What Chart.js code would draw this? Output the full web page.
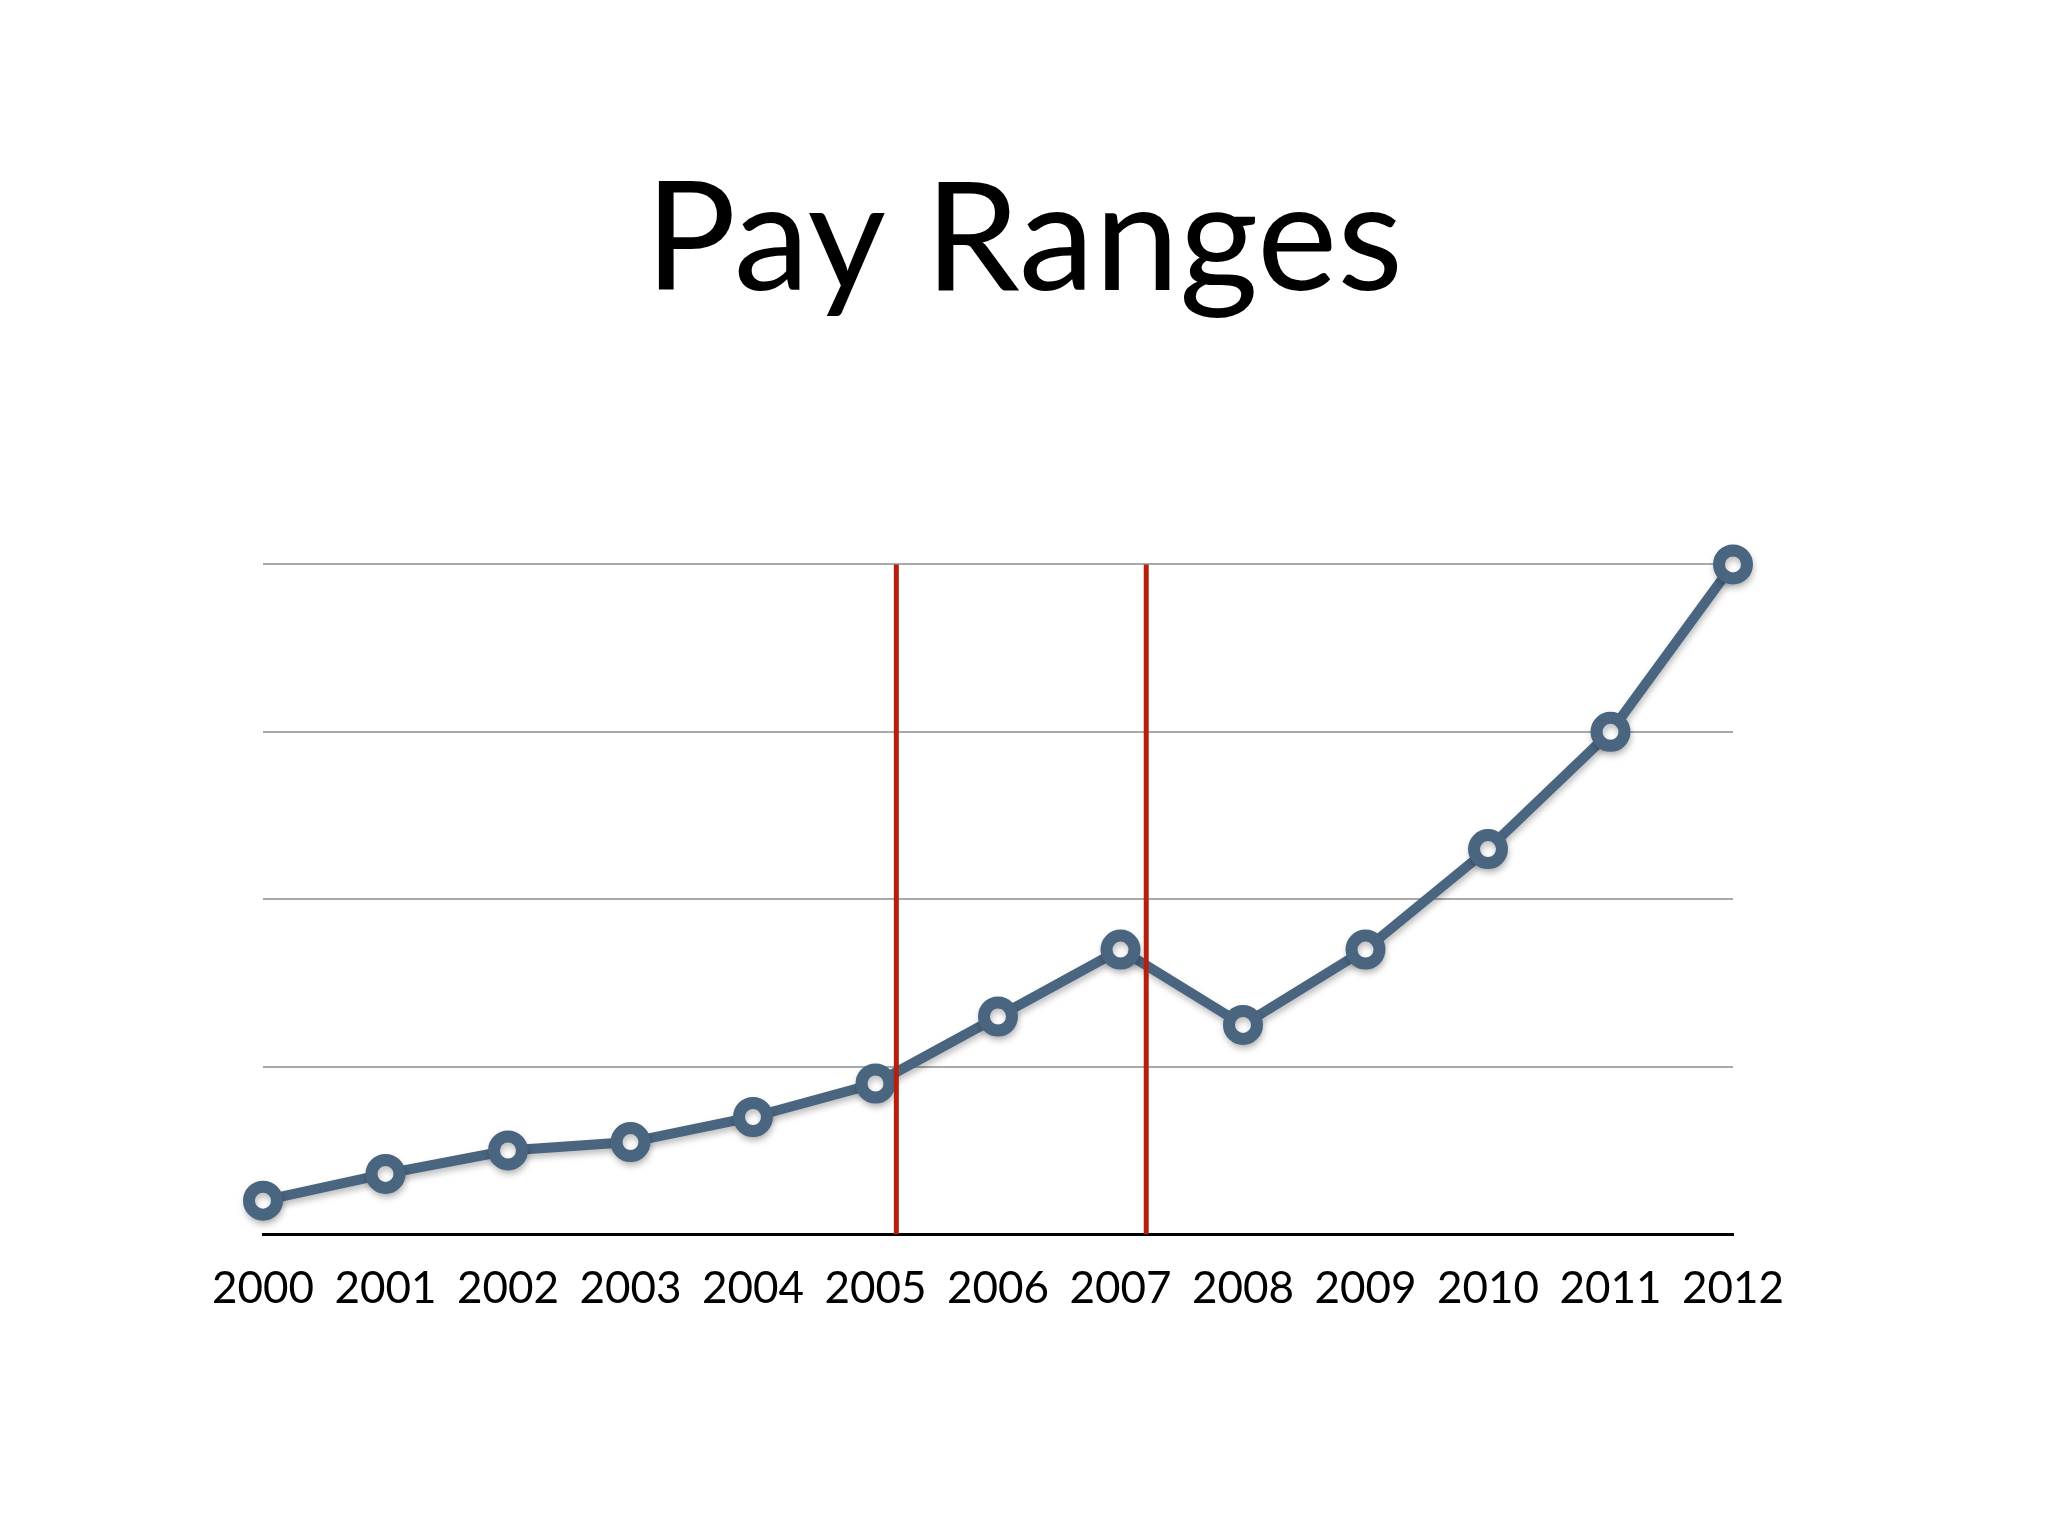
<!DOCTYPE html>
<html>
<head>
<meta charset="utf-8">
<title>Pay Ranges</title>
<script src="https://cdn.jsdelivr.net/npm/chart.js@4"></script>
<style>
    html, body { margin: 0; padding: 0; background: #ffffff; }
    canvas { display: block; }
</style>
</head>
<body>
<canvas id="payChart" width="2048" height="1536"></canvas>
<script>
// Years along the bottom axis
const years = [2000, 2001, 2002, 2003, 2004, 2005, 2006, 2007, 2008, 2009, 2010, 2011, 2012];

// Pay level, in gridline steps (no scale printed)
const payValues = [0.2, 0.36, 0.5, 0.55, 0.7, 0.9, 1.3, 1.7, 1.25, 1.7, 2.3, 3.0, 4.0];

// Red marker lines (fraction of a year after the tick)
const markerYears = [2005.17, 2007.21];

// Horizontal gridline levels
const gridLevels = [0, 1, 2, 3, 4];

document.addEventListener("DOMContentLoaded", function () {
    const ctx = document.getElementById("payChart").getContext("2d");

    const payPoints = years.map((year, i) => ({ x: year, y: payValues[i] }));

    const markerSets = markerYears.map(year => ({
        label: "marker " + year,
        data: [{ x: year, y: gridLevels[0] }, { x: year, y: gridLevels[gridLevels.length - 1] }],
        borderColor: "#b3200e",
        borderWidth: 5,
        pointRadius: 0,
        clip: false,
        order: 0
    }));

    // soft drop shadow under the pay line only
    const shadowPlugin = {
        id: "lineShadow",
        beforeDatasetDraw(chart, args) {
            if (chart.data.datasets[args.index].label !== "Pay") return;
            const c = chart.ctx;
            c.save();
            c.shadowColor = "rgba(0, 0, 0, 0.25)";
            c.shadowBlur = 6;
            c.shadowOffsetX = 1;
            c.shadowOffsetY = 4;
        },
        afterDatasetDraw(chart, args) {
            if (chart.data.datasets[args.index].label !== "Pay") return;
            chart.ctx.restore();
        }
    };

    new Chart(ctx, {
        type: "line",
        data: {
            datasets: [
                ...markerSets,
                {
                    label: "Pay",
                    data: payPoints,
                    borderColor: "#4a6580",
                    borderWidth: 10,
                    pointRadius: 14,
                    pointBorderWidth: 12,
                    pointBackgroundColor: "#ffffff",
                    pointBorderColor: "#4a6580",
                    tension: 0,
                    clip: false,
                    order: 1
                }
            ]
        },
        options: {
            responsive: false,
            devicePixelRatio: 1,
            animation: false,
            // symmetric padding keeps the title centred on the page
            layout: {
                padding: { top: 0, left: 263, right: 263, bottom: 193 }
            },
            plugins: {
                legend: { display: false },
                tooltip: { enabled: false },
                title: {
                    display: true,
                    text: "Pay Ranges",
                    color: "#000000",
                    font: { family: "Lato", size: 152, weight: "normal" },
                    padding: { top: 150, bottom: 232 }
                }
            },
            scales: {
                x: {
                    type: "linear",
                    min: years[0],
                    max: years[years.length - 1],
                    grid: { display: false, drawTicks: false },
                    border: { display: true, color: "#000000", width: 3 },
                    ticks: {
                        stepSize: 1,
                        autoSkip: false,
                        maxRotation: 0,
                        padding: 28,
                        color: "#000000",
                        font: { family: "Lato", size: 44 },
                        callback: value => String(value)
                    }
                },
                y: {
                    min: gridLevels[0],
                    max: gridLevels[gridLevels.length - 1],
                    border: { display: false },
                    grid: {
                        drawTicks: false,
                        lineWidth: 2,
                        color: c => (c.tick && c.tick.value === 0 ? "#000000" : "#a9a9a9")
                    },
                    ticks: { display: false, stepSize: 1 }
                },
                // empty right axis, only to leave the extra room on the right
                yRight: {
                    position: "right",
                    min: gridLevels[0],
                    max: gridLevels[gridLevels.length - 1],
                    border: { display: false },
                    grid: { display: false, drawTicks: false },
                    ticks: { display: false },
                    afterFit: scale => { scale.width = 52; }
                }
            }
        },
        plugins: [shadowPlugin]
    });
});
</script>
</body>
</html>
